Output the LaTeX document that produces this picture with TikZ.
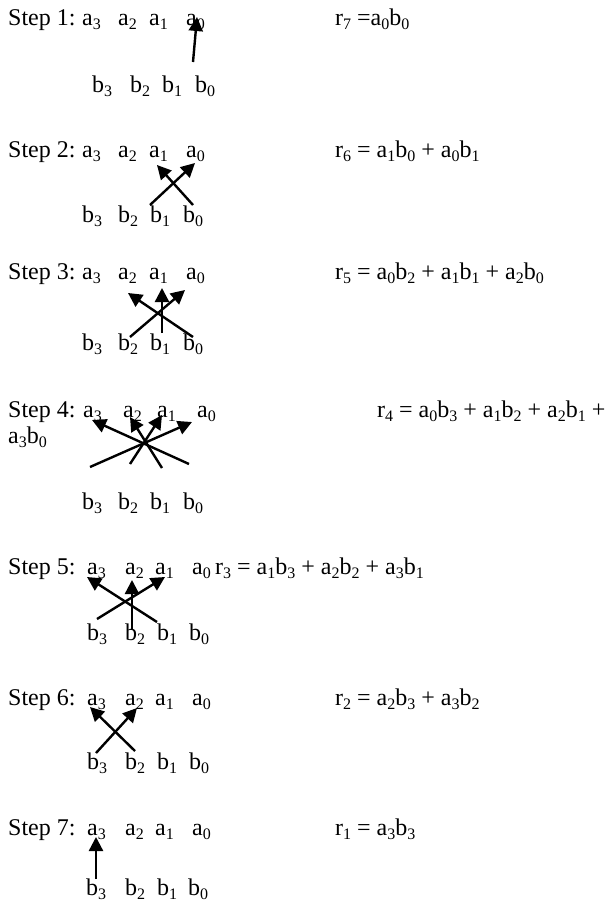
\documentclass[tikz,border=0pt]{standalone}
\usepackage{fontspec}
\setmainfont{Liberation Serif}
\usetikzlibrary{arrows.meta}
\newcommand{\sbs}[1]{\raisebox{-0.2em}{\fontsize{16}{16}\selectfont #1}}
\newcommand{\ab}[2]{#1\sbs{#2}}
% #1 prefix, #2 letter, #3 baseline, #4..#7 x of index 3,2,1,0
\newcommand{\varrow}[7]{%
  \node[txt] (#1#23) at (#4,#3) {\ab{#2}{3}};
  \node[txt] (#1#22) at (#5,#3) {\ab{#2}{2}};
  \node[txt] (#1#21) at (#6,#3) {\ab{#2}{1}};
  \node[txt] (#1#20) at (#7,#3) {\ab{#2}{0}};
}
\tikzset{
  txt/.style={anchor=base west, inner sep=0pt, font=\fontsize{24}{28}\selectfont},
  arr/.style={line width=2.4pt, -{Triangle[length=14pt,width=14pt]}}
}
\begin{document}
\begin{tikzpicture}[x=1pt,y=-1pt]
\useasboundingbox[fill=white] (0,0) rectangle (609,902);
% Step 1
\node[txt] (s1lab) at (8,25) {Step 1:};
\varrow{s1}{a}{25}{82}{118}{149}{186}
\varrow{s1}{b}{92}{92}{130}{162}{195}
\node[txt] (r7) at (335,25) {r\sbs{7} =a\sbs{0}b\sbs{0}};
% Step 2
\node[txt] (s2lab) at (8,157) {Step 2:};
\varrow{s2}{a}{157}{82}{118}{149}{186}
\varrow{s2}{b}{222}{82}{118}{150}{183}
\node[txt] (r6) at (335,157) {r\sbs{6} = a\sbs{1}b\sbs{0} + a\sbs{0}b\sbs{1}};
% Step 3
\node[txt] (s3lab) at (8,279) {Step 3:};
\varrow{s3}{a}{279}{82}{118}{149}{186}
\varrow{s3}{b}{350}{82}{118}{150}{183}
\node[txt] (r5) at (335,279) {r\sbs{5} = a\sbs{0}b\sbs{2} + a\sbs{1}b\sbs{1} + a\sbs{2}b\sbs{0}};
% Step 4
\node[txt] (s4lab) at (8,417) {Step 4:};
\varrow{s4}{a}{417}{83}{123}{157}{197}
\varrow{s4}{b}{509}{82}{118}{150}{183}
\node[txt] (r4) at (377,417) {r\sbs{4} = a\sbs{0}b\sbs{3} + a\sbs{1}b\sbs{2} + a\sbs{2}b\sbs{1} +};
\node[txt] (r4b) at (8,443) {a\sbs{3}b\sbs{0}};
% Step 5
\node[txt] (s5lab) at (8,574) {Step 5:};
\varrow{s5}{a}{574}{87}{125}{155}{192}
\varrow{s5}{b}{640}{87}{125}{157}{189}
\node[txt] (r3) at (215,574) {r\sbs{3} = a\sbs{1}b\sbs{3} + a\sbs{2}b\sbs{2} + a\sbs{3}b\sbs{1}};
% Step 6
\node[txt] (s6lab) at (8,705) {Step 6:};
\varrow{s6}{a}{705}{87}{125}{155}{192}
\varrow{s6}{b}{769}{87}{125}{157}{189}
\node[txt] (r2) at (335,705) {r\sbs{2} = a\sbs{2}b\sbs{3} + a\sbs{3}b\sbs{2}};
% Step 7
\node[txt] (s7lab) at (8,835) {Step 7:};
\varrow{s7}{a}{835}{87}{125}{155}{192}
\varrow{s7}{b}{895}{86}{125}{157}{188}
\node[txt] (r1) at (335,835) {r\sbs{1} = a\sbs{3}b\sbs{3}};
% arrow end points
\coordinate (p1s) at (193,62);  \coordinate (p1t) at (197,17);
\coordinate (p2as) at (150,205); \coordinate (p2at) at (195,163);
\coordinate (p2bs) at (193,205); \coordinate (p2bt) at (157,165);
\coordinate (p3as) at (130,337); \coordinate (p3at) at (185,290);
\coordinate (p3bs) at (193,337); \coordinate (p3bt) at (128,293);
\coordinate (p3cs) at (162,333); \coordinate (p3ct) at (162,288);
\coordinate (p4as) at (90,467);  \coordinate (p4at) at (192,422);
\coordinate (p4bs) at (130,464); \coordinate (p4bt) at (162,415);
\coordinate (p4cs) at (162,468); \coordinate (p4ct) at (130,417);
\coordinate (p4ds) at (189,464); \coordinate (p4dt) at (92,420);
\coordinate (p5as) at (97,619);  \coordinate (p5at) at (165,577);
\coordinate (p5bs) at (157,622); \coordinate (p5bt) at (87,577);
\coordinate (p5cs) at (132,630); \coordinate (p5ct) at (132,580);
\coordinate (p6as) at (96,753);  \coordinate (p6at) at (137,708);
\coordinate (p6bs) at (135,751); \coordinate (p6bt) at (90,707);
\coordinate (p7s) at (96,879);   \coordinate (p7t) at (96,837);
\draw[arr] (p1s) -- (p1t);
\draw[arr] (p2as) -- (p2at);
\draw[arr] (p2bs) -- (p2bt);
\draw[arr] (p3as) -- (p3at);
\draw[arr] (p3bs) -- (p3bt);
\draw[arr] (p3cs) -- (p3ct);
\draw[arr] (p4as) -- (p4at);
\draw[arr] (p4bs) -- (p4bt);
\draw[arr] (p4cs) -- (p4ct);
\draw[arr] (p4ds) -- (p4dt);
\draw[arr] (p5as) -- (p5at);
\draw[arr] (p5bs) -- (p5bt);
\draw[arr] (p5cs) -- (p5ct);
\draw[arr] (p6as) -- (p6at);
\draw[arr] (p6bs) -- (p6bt);
\draw[arr] (p7s) -- (p7t);
\end{tikzpicture}
\end{document}
